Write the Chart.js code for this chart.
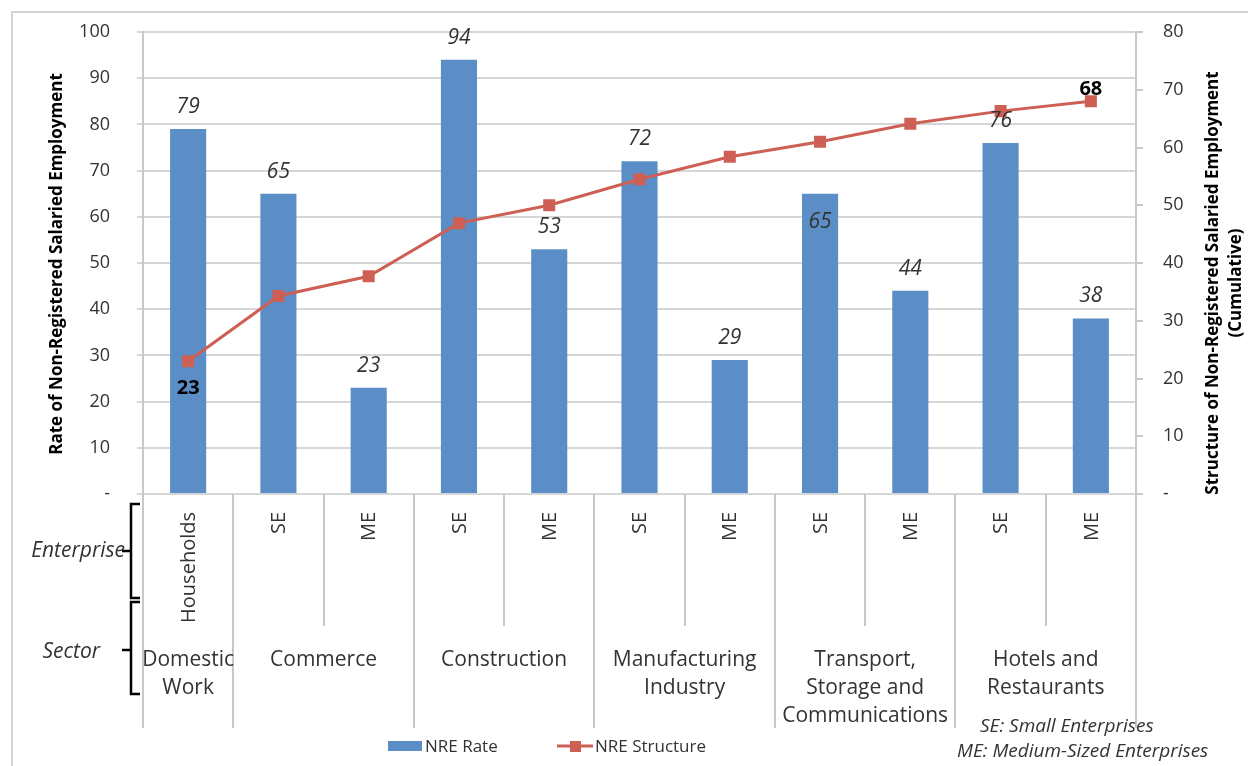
<!DOCTYPE html>
<html lang="en">
<head>
<meta charset="UTF-8">
<title>Non-Registered Salaried Employment</title>
<style>
    body { margin: 0; background: #fff; }
    #wrap { width: 1248px; height: 766px; position: relative; }
</style>
</head>
<body>
<div id="wrap"><canvas id="nreChart" width="1248" height="766"></canvas></div>

<script src="https://cdn.jsdelivr.net/npm/chart.js@4"></script>
<script>
    // enterprise type per bar, and the sectors they belong to
    const categories = ['Households', 'SE', 'ME', 'SE', 'ME', 'SE', 'ME', 'SE', 'ME', 'SE', 'ME'];
    const sectorNames = [['Domestic', 'Work'], ['Commerce'], ['Construction'], ['Manufacturing', 'Industry'],
                         ['Transport,', 'Storage and', 'Communications'], ['Hotels and', 'Restaurants']];
    const sectorSpans = [1, 2, 2, 2, 2, 2];

    // NRE Rate (left axis) and cumulative NRE Structure (right axis)
    const nreRate = [79, 65, 23, 94, 53, 72, 29, 65, 44, 76, 38];
    const nreStructure = [23, 34.3, 37.7, 46.9, 50, 54.5, 58.4, 61, 64.1, 66.3, 68];
    const structureLabels = ['23', '', '', '', '', '', '', '', '', '', '68'];

    const leftTicks = { min: 0, max: 100, step: 10 };
    const rightTicks = { min: 0, max: 80, step: 10 };

    const BLUE = '#5b8ec6';
    const RED = '#cd5f55';
    const TEXT = '#333333';
    const GRID = '#d6d6d6';
    const FONT = '"Open Sans", sans-serif';

    // Extra drawing: data labels, the two-row category table, braces, titles, legend
    const extras = {
        id: 'extras',
        beforeDraw(chart) {
            const ctx = chart.ctx;
            ctx.save();
            ctx.strokeStyle = '#d4d4d4';
            ctx.lineWidth = 2;
            ctx.strokeRect(12, 12, 1300, 800);
            ctx.restore();
        },
        afterDatasetsDraw(chart) {
            const ctx = chart.ctx;
            ctx.save();
            ctx.textAlign = 'center';
            ctx.textBaseline = 'middle';

            // bar values, italic
            ctx.font = 'italic 21px ' + FONT;
            ctx.fillStyle = TEXT;
            const barMeta = chart.getDatasetMeta(1);
            barMeta.data.forEach((bar, i) => {
                // the label that would sit on the line goes inside its bar
                const y = (i === 7) ? bar.y + 28 : bar.y - 22;
                ctx.fillText(String(nreRate[i]), bar.x, y);
            });

            // first and last cumulative values, bold
            ctx.font = 'bold 20px ' + FONT;
            ctx.fillStyle = '#000';
            const lineMeta = chart.getDatasetMeta(0);
            lineMeta.data.forEach((pt, i) => {
                if (!structureLabels[i]) return;
                const y = (i === 0) ? pt.y + 27 : pt.y - 12;
                ctx.fillText(structureLabels[i], pt.x, y);
            });
            ctx.restore();
        },
        afterDraw(chart) {
            const ctx = chart.ctx;
            const area = chart.chartArea;
            const xs = chart.scales.x;
            const n = categories.length;
            const bw = (area.right - area.left) / n;
            const top = area.bottom;
            const rowSplit = 626;
            const tableBottom = 728;

            ctx.save();

            // vertical separators of the category table
            const sectorEdges = [0];
            sectorSpans.forEach(s => sectorEdges.push(sectorEdges[sectorEdges.length - 1] + s));
            ctx.strokeStyle = '#c8c8c8';
            ctx.lineWidth = 2;
            for (let b = 0; b <= n; b++) {
                const x = Math.round(area.left + b * bw);
                const full = sectorEdges.includes(b);
                ctx.beginPath();
                ctx.moveTo(x, top);
                ctx.lineTo(x, full ? tableBottom : rowSplit);
                ctx.stroke();
            }

            // enterprise labels, rotated
            ctx.fillStyle = TEXT;
            ctx.font = '20px ' + FONT;
            ctx.textAlign = 'right';
            ctx.textBaseline = 'middle';
            categories.forEach((c, i) => {
                ctx.save();
                ctx.translate(xs.getPixelForValue(i) + 1, 512);
                ctx.rotate(-Math.PI / 2);
                ctx.fillText(c, 0, 0);
                ctx.restore();
            });

            // sector labels
            ctx.font = '21px ' + FONT;
            ctx.textAlign = 'center';
            sectorNames.forEach((lines, s) => {
                const x0 = area.left + sectorEdges[s] * bw;
                const x1 = area.left + sectorEdges[s + 1] * bw;
                lines.forEach((ln, k) => ctx.fillText(ln, (x0 + x1) / 2, 660 + k * 28));
            });

            // braces with row names
            ctx.strokeStyle = '#000';
            ctx.lineWidth = 2.5;
            const brace = (y0, y1, ym) => {
                ctx.beginPath();
                ctx.moveTo(140, y0);
                ctx.lineTo(131, y0);
                ctx.lineTo(131, y1);
                ctx.lineTo(140, y1);
                ctx.moveTo(131, ym);
                ctx.lineTo(122, ym);
                ctx.stroke();
            };
            brace(504, 598, 551);
            brace(602, 694, 650);
            ctx.font = 'italic 21px ' + FONT;
            ctx.textAlign = 'right';
            ctx.fillStyle = TEXT;
            ctx.fillText('Enterprise', 125, 551);
            ctx.fillText('Sector', 100, 652);

            // axis titles
            ctx.font = 'bold 17px ' + FONT;
            ctx.fillStyle = '#000';
            ctx.textAlign = 'center';
            ctx.save();
            ctx.translate(57, 264);
            ctx.rotate(-Math.PI / 2);
            ctx.fillText('Rate of Non-Registered Salaried Employment', 0, 0, 452);
            ctx.restore();
            ctx.save();
            ctx.translate(1213, 283);
            ctx.rotate(-Math.PI / 2);
            ctx.fillText('Structure of Non-Registered Salaried Employment', 0, 0, 495);
            ctx.fillText('(Cumulative)', 0, 23);
            ctx.restore();

            // legend
            ctx.fillStyle = BLUE;
            ctx.fillRect(388, 741, 34, 10);
            ctx.strokeStyle = RED;
            ctx.lineWidth = 3;
            ctx.beginPath();
            ctx.moveTo(557, 746);
            ctx.lineTo(593, 746);
            ctx.stroke();
            ctx.fillStyle = RED;
            ctx.fillRect(570, 741, 11, 11);
            ctx.font = '17px ' + FONT;
            ctx.fillStyle = TEXT;
            ctx.textAlign = 'left';
            ctx.fillText('NRE Rate', 425, 747);
            ctx.fillText('NRE Structure', 595, 747);

            // footnote
            ctx.font = 'italic 19px ' + FONT;
            ctx.fillText('SE: Small Enterprises', 980, 727);
            ctx.fillText('ME: Medium-Sized Enterprises', 957, 752);

            ctx.restore();
        }
    };

    // fixed axis widths; drop the label padding so the plot top follows layout.padding
    function fitAxis(width) {
        return function (scale) {
            scale.width = width;
            scale.paddingTop = 0;
            scale.paddingBottom = 0;
        };
    }

    const ctx = document.getElementById('nreChart').getContext('2d');
    const nreChart = new Chart(ctx, {
        type: 'bar',
        data: {
            labels: categories,
            datasets: [{
                type: 'line',
                label: 'NRE Structure',
                data: nreStructure,
                yAxisID: 'y1',
                borderColor: RED,
                backgroundColor: RED,
                borderWidth: 3,
                pointStyle: 'rect',
                pointRadius: 8.5,
                pointBackgroundColor: RED,
                pointBorderWidth: 0,
                tension: 0,
                order: 0
            }, {
                label: 'NRE Rate',
                data: nreRate,
                yAxisID: 'y',
                backgroundColor: BLUE,
                barPercentage: 0.4,
                categoryPercentage: 1.0,
                order: 1
            }]
        },
        options: {
            responsive: false,
            animation: false,
            layout: { padding: { top: 32, bottom: 272, left: 0, right: 0 } },
            plugins: {
                legend: { display: false },
                tooltip: { enabled: false }
            },
            scales: {
                x: { display: false },
                y: {
                    position: 'left',
                    min: leftTicks.min,
                    max: leftTicks.max,
                    ticks: {
                        stepSize: leftTicks.step,
                        callback: v => v === 0 ? '-' : v,
                        font: { family: FONT, size: 18 },
                        color: TEXT,
                        padding: 27
                    },
                    grid: { color: GRID, lineWidth: 2, tickLength: 6 },
                    border: { color: '#c8c8c8', width: 2 },
                    afterFit: fitAxis(143)
                },
                y1: {
                    position: 'right',
                    min: rightTicks.min,
                    max: rightTicks.max,
                    ticks: {
                        stepSize: rightTicks.step,
                        callback: v => v === 0 ? '-' : v,
                        font: { family: FONT, size: 18 },
                        color: TEXT,
                        padding: 20
                    },
                    grid: { drawOnChartArea: false, color: '#c8c8c8', lineWidth: 2, tickLength: 7 },
                    border: { color: '#c8c8c8', width: 2 },
                    afterFit: fitAxis(112)
                }
            }
        },
        plugins: [extras]
    });
</script>
</body>
</html>
